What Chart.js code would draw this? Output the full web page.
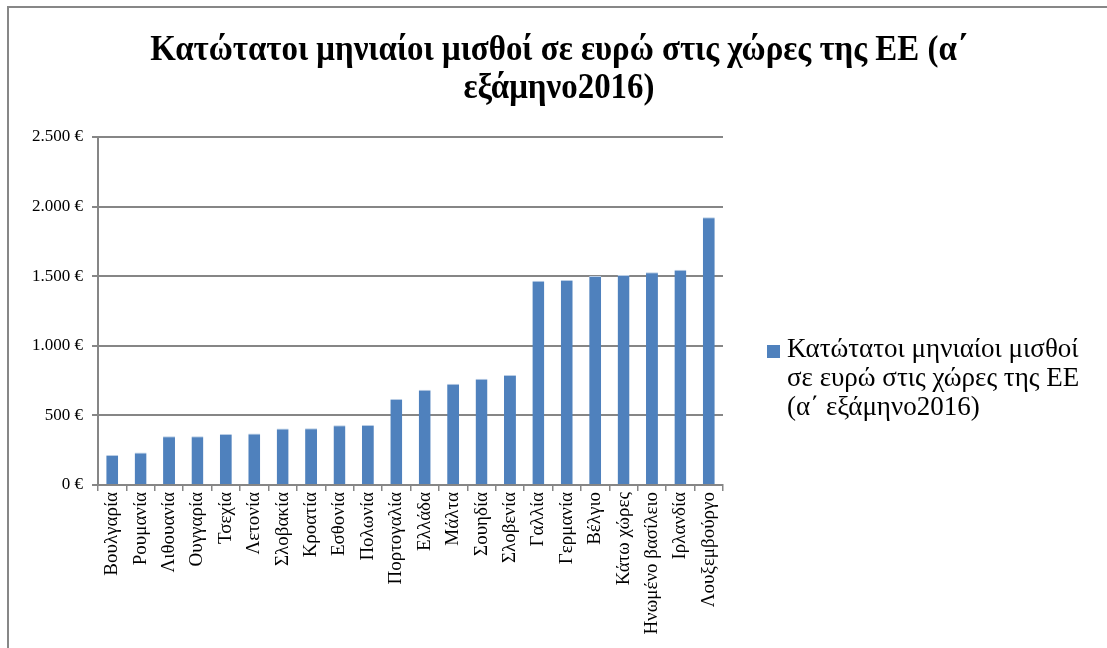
<!DOCTYPE html>
<html>
<head>
<meta charset="utf-8">
<script src="https://cdn.jsdelivr.net/npm/chart.js@4.4.0/dist/chart.umd.min.js"></script>
<style>
  html, body { margin: 0; padding: 0; background: #fff; }
  #wrap { position: relative; width: 1107px; height: 648px; overflow: hidden; }
  #frame { position: absolute; left: 7px; top: 6px; width: 1200px; height: 700px;
           border-left: 2px solid #878787; border-top: 2px solid #878787; }
  #title { position: absolute; left: 0; top: 30px; width: 1118px; text-align: center;
           font-family: "Liberation Serif", "Times New Roman", serif; font-weight: bold;
           font-size: 35px; line-height: 38px; color: #000;
           transform: scaleX(0.94); transform-origin: 559px 0; }
  #legend { position: absolute; left: 766px; top: 334px; width: 340px;
            font-family: "Liberation Serif", "Times New Roman", serif; font-size: 27px;
            line-height: 29px; color: #000; }
  #legend .box { position: absolute; left: 1px; top: 11px; width: 13px; height: 13px; background: #4F81BD; }
  #legend .txt { margin-left: 21px; white-space: nowrap; }
  canvas { position: absolute; left: 0; top: 0; }
</style>
</head>
<body>
<div id="wrap">
  <div id="frame"></div>
  <canvas id="myBarChart" width="1107" height="648"></canvas>
  <div id="title"></div>
  <div id="legend"><span class="box"></span><div class="txt" id="legendText"></div></div>
</div>
<script>
var countries = ['Βουλγαρία', 'Ρουμανία', 'Λιθουανία', 'Ουγγαρία', 'Τσεχία', 'Λετονία',
  'Σλοβακία', 'Κροατία', 'Εσθονία', 'Πολωνία', 'Πορτογαλία', 'Ελλάδα', 'Μάλτα',
  'Σουηδία', 'Σλοβενία', 'Γαλλία', 'Γερμανία', 'Βέλγιο', 'Κάτω χώρες',
  'Ηνωμένο βασίλειο', 'Ιρλανδία', 'Λουξεμβούργο'];
var wages = [215, 233, 350, 351, 366, 370, 405, 408, 430, 431, 618, 684, 728,
  764, 791, 1467, 1473, 1502, 1508, 1529, 1546, 1923];
var seriesName = 'Κατώτατοι μηνιαίοι μισθοί σε ευρώ στις χώρες της ΕΕ (α΄ εξάμηνο2016)';
var titleLines = ['Κατώτατοι μηνιαίοι μισθοί σε ευρώ στις χώρες της ΕΕ (α΄', 'εξάμηνο2016)'];
var legendLines = ['Κατώτατοι μηνιαίοι μισθοί', 'σε ευρώ στις χώρες της ΕΕ', '(α΄ εξάμηνο2016)'];

var serif = '"Liberation Serif", "Times New Roman", serif';
var gridGray = '#868686';

document.getElementById('title').innerHTML = titleLines.join('<br>');
document.getElementById('legendText').innerHTML = legendLines.join('<br>');

// euro amounts with dot as thousands separator
function euro(v) {
  return String(v).replace(/\B(?=(\d{3})+(?!\d))/g, '.') + ' €';
}

var ctx = document.getElementById('myBarChart').getContext('2d');
var myBarChart = new Chart(ctx, {
  type: 'bar',
  data: {
    labels: countries,
    datasets: [{
      label: seriesName,
      data: wages,
      backgroundColor: '#4F81BD',
      borderColor: '#B9CDE5',
      borderWidth: { top: 1, left: 0, right: 0, bottom: 0 },
      barPercentage: 0.42,
      categoryPercentage: 1.0,
    }],
  },
  options: {
    responsive: false,
    animation: false,
    layout: { padding: { left: 0, right: 384, top: 137, bottom: 0 } },
    plugins: {
      legend: { display: false },
      tooltip: { enabled: false },
      title: { display: false },
    },
    scales: {
      x: {
        afterFit: function (scale) { scale.height = 163; },
        grid: { display: true, drawOnChartArea: false, drawTicks: true, tickLength: 6,
                color: gridGray, lineWidth: 1.5 },
        border: { color: gridGray, width: 2 },
        ticks: { color: '#000', font: { family: serif, size: 19 }, minRotation: 90,
                 maxRotation: 90, autoSkip: false, padding: 1 },
      },
      y: {
        min: 0,
        max: 2500,
        afterFit: function (scale) { scale.width = 98; },
        grid: { color: gridGray, lineWidth: 2, tickLength: 6 },
        border: { color: gridGray, width: 2 },
        ticks: { stepSize: 500, color: '#000', padding: 9,
                 font: { family: serif, size: 17 }, callback: function (v) { return euro(v); } },
      },
    },
  },
});
</script>
</body>
</html>
